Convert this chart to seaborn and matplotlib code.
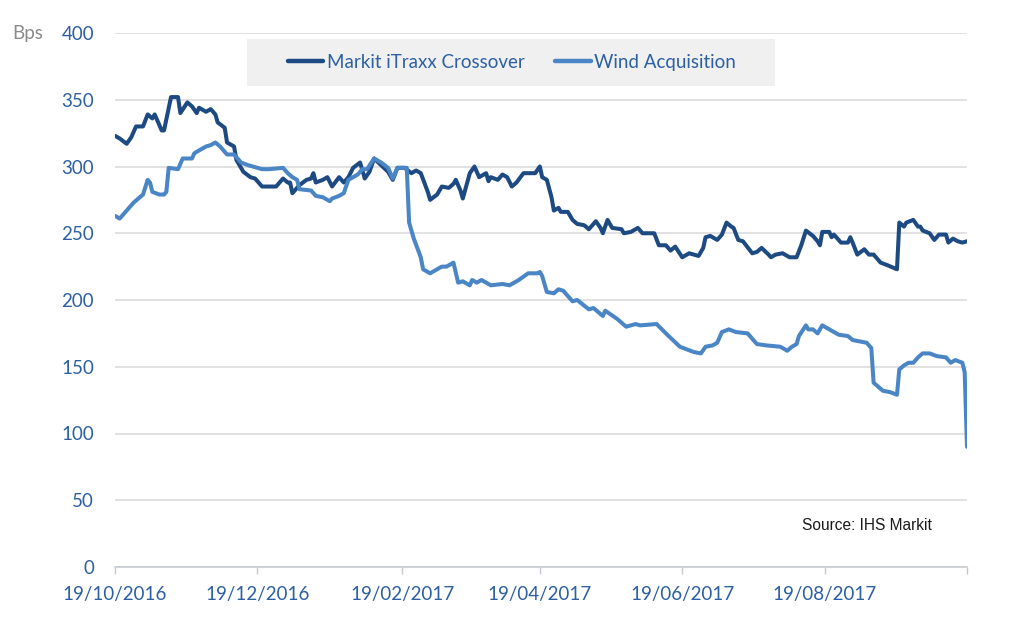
import matplotlib
matplotlib.use("Agg")
import matplotlib.pyplot as plt
from matplotlib.lines import Line2D
from matplotlib.patches import Rectangle
import seaborn as sns
import pandas as pd
import numpy as np

# ---------------- data (days since 19/10/2016, spread in bps) ----------------
start_date = "2016-10-19"
cross_day = [0, 2, 5, 7, 9, 12, 14, 16, 17, 20, 21, 24, 27, 28, 31, 33, 35, 36, 39, 41,
             43, 44, 47, 48, 51, 52, 55, 58, 60, 63, 69, 72, 74, 75, 76, 79, 82, 84, 85, 86,
             89, 91, 93, 96, 98, 100, 102, 105, 107, 109, 111, 114, 117, 119, 121, 124, 127, 129, 131, 134,
             135, 138, 140, 143, 145, 146, 148, 149, 152, 154, 156, 159, 160, 161, 164, 166, 168, 170, 172, 175,
             180, 182, 183, 185, 187, 188, 190, 191, 194, 196, 198, 201, 203, 206, 208, 209, 211, 213, 217, 218,
             221, 224, 226, 231, 233, 236, 238, 240, 243, 246, 250, 252, 253, 255, 258, 260, 262, 264, 265, 267,
             269, 273, 275, 277, 280, 281, 283, 286, 289, 292, 294, 296, 299, 301, 302, 303, 306, 307, 308, 311,
             314, 315, 316, 318, 321, 323, 325, 328, 331, 335, 336, 338, 339, 342, 344, 345, 346, 349, 351, 353,
             356, 357, 359, 361, 363, 365]
cross_bps = [323, 321, 317, 322, 330, 330, 339, 336, 339, 327, 327, 352, 352, 340, 348, 345, 340, 344, 341, 343,
             339, 333, 329, 318, 315, 305, 296, 292, 291, 285, 285, 291, 288, 288, 280, 286, 290, 291, 295, 288,
             290, 292, 285, 292, 288, 292, 299, 303, 291, 296, 306, 301, 296, 290, 299, 299, 295, 297, 295, 281,
             275, 279, 285, 284, 287, 290, 282, 276, 295, 300, 292, 295, 289, 292, 290, 294, 292, 285, 288, 295,
             295, 300, 292, 290, 277, 267, 269, 266, 266, 260, 257, 256, 253, 259, 254, 250, 260, 254, 253, 250,
             251, 254, 250, 250, 241, 241, 237, 240, 232, 235, 233, 239, 247, 248, 245, 249, 258, 255, 254, 245,
             244, 235, 236, 239, 234, 232, 234, 235, 232, 232, 241, 252, 248, 244, 241, 251, 251, 247, 249, 243,
             243, 247, 243, 234, 238, 234, 234, 228, 226, 223, 258, 255, 258, 260, 255, 255, 252, 250, 245, 249,
             249, 243, 246, 244, 243, 244]

wind_day = [0, 2, 5, 8, 10, 12, 14, 15, 16, 19, 21, 22, 23, 27, 29, 33, 34, 36, 39, 41,
            43, 45, 48, 51, 54, 57, 59, 63, 66, 72, 74, 76, 78, 79, 84, 86, 89, 92, 93, 96,
            98, 100, 104, 106, 108, 111, 114, 117, 119, 121, 125, 126, 128, 131, 132, 135, 138, 140, 142, 145,
            147, 149, 152, 153, 155, 157, 161, 166, 169, 173, 177, 181, 182, 183, 185, 188, 190, 192, 196, 198,
            203, 205, 209, 210, 215, 219, 223, 225, 232, 236, 239, 242, 245, 248, 251, 253, 256, 258, 260, 263,
            266, 271, 273, 275, 279, 285, 288, 290, 292, 293, 296, 297, 299, 301, 303, 305, 308, 310, 314, 316,
            319, 322, 324, 325, 327, 329, 332, 335, 336, 338, 340, 342, 344, 346, 349, 352, 356, 358, 360, 363,
            364, 365]
wind_bps = [263, 261, 267, 273, 276, 279, 290, 288, 281, 279, 279, 281, 299, 298, 306, 306, 310, 312, 315, 316,
            318, 315, 309, 309, 303, 301, 300, 298, 298, 299, 295, 292, 290, 283, 282, 278, 277, 274, 276, 278,
            280, 290, 294, 298, 298, 306, 303, 299, 291, 299, 299, 258, 246, 232, 223, 220, 223, 225, 225, 228,
            213, 214, 211, 215, 213, 215, 211, 212, 211, 215, 220, 220, 221, 218, 206, 205, 208, 207, 199, 200,
            193, 194, 188, 192, 186, 180, 182, 181, 182, 175, 170, 165, 163, 161, 160, 165, 166, 168, 176, 178,
            176, 175, 171, 167, 166, 165, 162, 165, 167, 173, 181, 178, 178, 175, 181, 179, 176, 174, 173, 170,
            169, 168, 164, 138, 135, 132, 131, 129, 148, 151, 153, 153, 157, 160, 160, 158, 157, 153, 155, 153,
            146, 90]

series_names = ["Markit iTraxx Crossover", "Wind Acquisition"]
series_colors = ["#1d4a82", "#4a85c6"]
y_ticks = [0, 50, 100, 150, 200, 250, 300, 350, 400]
x_tick_dates = ["2016-10-19", "2016-12-19", "2017-02-19", "2017-04-19",
                "2017-06-19", "2017-08-19", "2017-10-19"]
x_tick_labels = ["19/10/2016", "19/12/2016", "19/02/2017", "19/04/2017",
                 "19/06/2017", "19/08/2017", ""]

# ---------------- build frame ----------------
t0 = pd.Timestamp(start_date)
df = pd.concat([
    pd.DataFrame({"date": t0 + pd.to_timedelta(cross_day, unit="D"),
                  "bps": cross_bps, "series": series_names[0]}),
    pd.DataFrame({"date": t0 + pd.to_timedelta(wind_day, unit="D"),
                  "bps": wind_bps, "series": series_names[1]}),
], ignore_index=True)

# ---------------- style ----------------
sns.set_theme(style="white")
plt.rcParams["font.family"] = ["Lato", "DejaVu Sans"]
blue_text = "#2c5fa3"

fig = plt.figure(figsize=(10.24, 6.34), dpi=100)
W, H = 1024, 634
ax = fig.add_axes([115 / W, 1 - 567 / H, (967 - 115) / W, (567 - 33) / H])

sns.lineplot(data=df, x="date", y="bps", hue="series", hue_order=series_names,
             palette=dict(zip(series_names, series_colors)), linewidth=2.9,
             ax=ax, legend=False, estimator=None)

ax.set_ylim(0, 400)
ax.set_yticks(y_ticks)
ax.set_xlim(pd.Timestamp(x_tick_dates[0]), pd.Timestamp(x_tick_dates[-1]))
ax.set_xticks(pd.to_datetime(x_tick_dates))
ax.set_xticklabels(x_tick_labels)
ax.set_xlabel("")
ax.set_ylabel("")

ax.yaxis.grid(True, color="#d9d9d9", linewidth=1.1)
ax.xaxis.grid(False)
for s in ["top", "right", "left"]:
    ax.spines[s].set_visible(False)
ax.spines["bottom"].set_color("#c3c8ce")
ax.spines["bottom"].set_linewidth(1.1)

ax.tick_params(axis="y", length=0, pad=15, labelsize=13.5, labelcolor=blue_text)
ax.tick_params(axis="x", length=5, width=1, color="#c3c8ce", pad=9,
               labelsize=13.5, labelcolor=blue_text, bottom=True)

# legend box
rect = Rectangle((247 / W, 1 - 86 / H), 528 / W, 47 / H, transform=fig.transFigure,
                 facecolor="#f0f0f0", edgecolor="none", zorder=5, clip_on=False)
ax.add_patch(rect)
handles = [Line2D([0], [0], color=c, lw=3.2) for c in series_colors]
leg = ax.legend(handles, series_names, loc="center",
                bbox_to_anchor=(512 / W, 1 - 62.5 / H), bbox_transform=fig.transFigure,
                ncol=2, frameon=False, handlelength=1.9, handletextpad=0.2,
                columnspacing=1.6, fontsize=13.5, labelcolor=blue_text)
leg.set_zorder(6)

fig.text(12 / W, 1 - 33 / H, "Bps", color="#8a8a8a", fontsize=13.5, va="center", ha="left")
fig.text(802 / W, 1 - 526 / H, "Source: IHS Markit", color="#1a1a1a", fontsize=11.2,
         va="center", ha="left", family=["Liberation Sans", "DejaVu Sans"])

fig.savefig("out.png", dpi=100)
